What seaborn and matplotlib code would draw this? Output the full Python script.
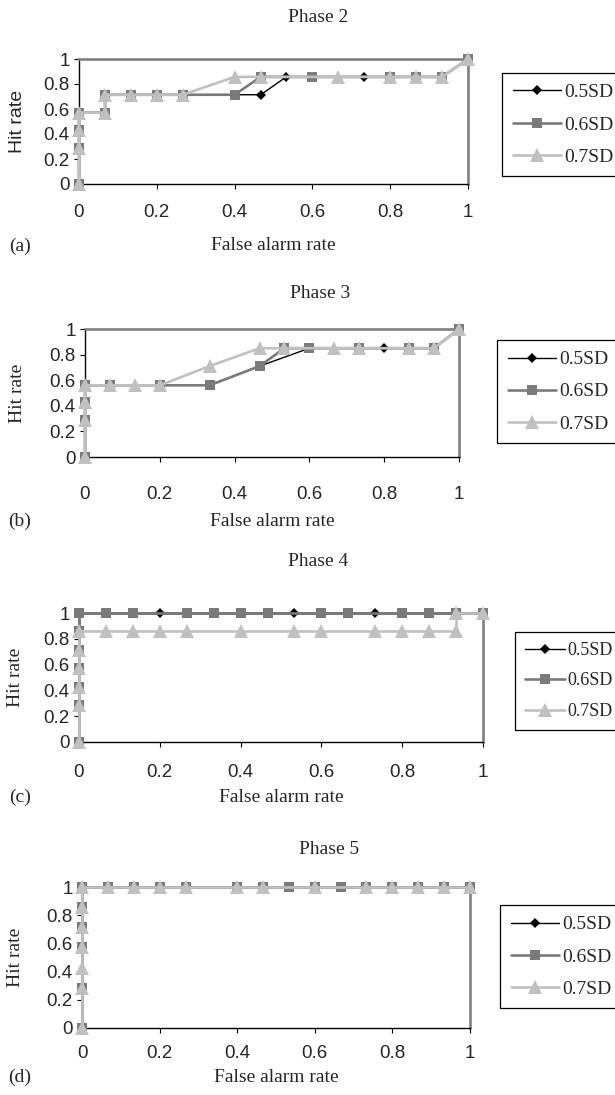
import matplotlib
matplotlib.use("Agg")
import matplotlib.pyplot as plt
import seaborn as sns

sns.set_style("ticks")
plt.rcParams["font.family"] = ["Liberation Sans", "DejaVu Sans"]

# ---------------- data ----------------
series_names = ["0.5SD", "0.6SD", "0.7SD"]
xtick_values = [0, 0.2, 0.4, 0.6, 0.8, 1]
xtick_labels = ["0", "0.2", "0.4", "0.6", "0.8", "1"]
ytick_values = [0, 0.2, 0.4, 0.6, 0.8, 1]
ytick_labels = ["0", "0.2", "0.4", "0.6", "0.8", "1"]
panel_titles = ["Phase 2", "Phase 3", "Phase 4", "Phase 5"]
panel_tags = ["(a)", "(b)", "(c)", "(d)"]

# Phase 2
p2_05_x = [0, 0, 0, 0, 0.067, 0.067, 0.133, 0.2, 0.267, 0.4, 0.467, 0.533, 0.6, 0.733, 0.8, 0.867, 0.933, 1]
p2_05_y = [0, 0.286, 0.429, 0.571, 0.571, 0.714, 0.714, 0.714, 0.714, 0.714, 0.714, 0.857, 0.857, 0.857, 0.857, 0.857, 0.857, 1]
p2_06_x = [0, 0, 0, 0, 0.067, 0.067, 0.133, 0.2, 0.267, 0.4, 0.467, 0.6, 0.8, 0.867, 0.933, 1]
p2_06_y = [0, 0.286, 0.429, 0.571, 0.571, 0.714, 0.714, 0.714, 0.714, 0.714, 0.857, 0.857, 0.857, 0.857, 0.857, 1]
p2_07_x = [0, 0, 0, 0, 0.067, 0.067, 0.133, 0.2, 0.267, 0.4, 0.467, 0.667, 0.8, 0.867, 0.933, 1]
p2_07_y = [0, 0.286, 0.429, 0.571, 0.571, 0.714, 0.714, 0.714, 0.714, 0.857, 0.857, 0.857, 0.857, 0.857, 0.857, 1]

# Phase 3
p3_05_x = [0, 0, 0, 0, 0.067, 0.2, 0.333, 0.467, 0.6, 0.733, 0.8, 0.867, 0.933, 1]
p3_05_y = [0, 0.29, 0.43, 0.56, 0.56, 0.56, 0.56, 0.71, 0.85, 0.85, 0.85, 0.85, 0.85, 1]
p3_06_x = [0, 0, 0, 0, 0.067, 0.2, 0.333, 0.467, 0.533, 0.6, 0.733, 0.867, 0.933, 1]
p3_06_y = [0, 0.29, 0.43, 0.56, 0.56, 0.56, 0.56, 0.71, 0.85, 0.85, 0.85, 0.85, 0.85, 1]
p3_07_x = [0, 0, 0, 0, 0.067, 0.133, 0.2, 0.333, 0.467, 0.533, 0.667, 0.733, 0.867, 0.933, 1]
p3_07_y = [0, 0.29, 0.43, 0.56, 0.56, 0.56, 0.56, 0.71, 0.85, 0.85, 0.85, 0.85, 0.85, 0.85, 1]

# Phase 4
p4_05_x = [0, 0, 0, 0, 0, 0, 0, 0.067, 0.133, 0.2, 0.267, 0.333, 0.4, 0.467, 0.533, 0.6, 0.667, 0.733, 0.8, 0.867, 0.933, 1]
p4_05_y = [0, 0.286, 0.429, 0.571, 0.714, 0.857, 1, 1, 1, 1, 1, 1, 1, 1, 1, 1, 1, 1, 1, 1, 1, 1]
p4_06_x = [0, 0, 0, 0, 0, 0, 0, 0.067, 0.133, 0.267, 0.333, 0.4, 0.467, 0.6, 0.667, 0.8, 0.867, 0.933, 1]
p4_06_y = [0, 0.286, 0.429, 0.571, 0.714, 0.857, 1, 1, 1, 1, 1, 1, 1, 1, 1, 1, 1, 1, 1]
p4_07_x = [0, 0, 0, 0, 0, 0, 0.067, 0.133, 0.2, 0.267, 0.4, 0.533, 0.6, 0.733, 0.8, 0.867, 0.933, 0.933, 1]
p4_07_y = [0, 0.286, 0.429, 0.571, 0.714, 0.857, 0.857, 0.857, 0.857, 0.857, 0.857, 0.857, 0.857, 0.857, 0.857, 0.857, 0.857, 1, 1]

# Phase 5
p5_05_x = [0, 0, 0, 0, 0, 0, 0.067, 0.133, 0.2, 0.267, 0.4, 0.467, 0.533, 0.6, 0.667, 0.733, 0.8, 0.867, 0.933, 1]
p5_05_y = [0, 0.286, 0.571, 0.714, 0.857, 1, 1, 1, 1, 1, 1, 1, 1, 1, 1, 1, 1, 1, 1, 1]
p5_06_x = [0, 0, 0, 0, 0, 0, 0.067, 0.133, 0.2, 0.267, 0.4, 0.467, 0.533, 0.6, 0.667, 0.733, 0.8, 0.867, 0.933, 1]
p5_06_y = [0, 0.286, 0.571, 0.714, 0.857, 1, 1, 1, 1, 1, 1, 1, 1, 1, 1, 1, 1, 1, 1, 1]
p5_07_x = [0, 0, 0, 0, 0, 0, 0, 0.067, 0.133, 0.2, 0.267, 0.4, 0.467, 0.6, 0.733, 0.8, 0.867, 0.933, 1]
p5_07_y = [0, 0.286, 0.429, 0.571, 0.714, 0.857, 1, 1, 1, 1, 1, 1, 1, 1, 1, 1, 1, 1, 1]

phase_data = [
    [(p2_05_x, p2_05_y), (p2_06_x, p2_06_y), (p2_07_x, p2_07_y)],
    [(p3_05_x, p3_05_y), (p3_06_x, p3_06_y), (p3_07_x, p3_07_y)],
    [(p4_05_x, p4_05_y), (p4_06_x, p4_06_y), (p4_07_x, p4_07_y)],
    [(p5_05_x, p5_05_y), (p5_06_x, p5_06_y), (p5_07_x, p5_07_y)],
]

# ---------------- style ----------------
styles = [
    dict(color="#000000", marker="D", markersize=5.5, linewidth=1.0),
    dict(color="#7a7a7a", marker="s", markersize=7.5, linewidth=1.9),
    dict(color="#c0c0c0", marker="^", markersize=9.5, linewidth=1.9),
]
SERIF = ["Liberation Serif", "DejaVu Serif"]
SANS = ["Liberation Sans", "DejaVu Sans"]

W, H = 615, 1095
# layout in pixels
layouts = [
    dict(box=(79, 468, 59, 184), title=(318, 18), xlab_y=246, ylab_x=18, ylab_font=SANS,
         xpad=11, leg=(502, 73), leg_fs=14, hl=2.5, tag_x=20),
    dict(box=(85, 459, 329, 457), title=(320, 293), xlab_y=521, ylab_x=18, ylab_font=SERIF,
         xpad=17, leg=(497, 340), leg_fs=14, hl=2.5, tag_x=20),
    dict(box=(79, 483, 613, 742), title=(318, 562), xlab_y=797, ylab_x=15, ylab_font=SERIF,
         xpad=12, leg=(515, 632), leg_fs=13, hl=2.2, tag_x=20),
    dict(box=(82, 470, 887, 1028), title=(329, 850), xlab_y=1077, ylab_x=15, ylab_font=SERIF,
         xpad=9, leg=(500, 905), leg_fs=14, hl=2.5, tag_x=20),
]

fig = plt.figure(figsize=(W / 100, H / 100), dpi=100)

for i, lay in enumerate(layouts):
    x0, x1, yt, yb = lay["box"]
    ax = fig.add_axes([x0 / W, 1 - yb / H, (x1 - x0) / W, (yb - yt) / H])
    for (xs, ys), name, st in zip(phase_data[i], series_names, styles):
        sns.lineplot(x=xs, y=ys, ax=ax, sort=False, estimator=None, label=name,
                     legend=False, color=st["color"], marker=st["marker"],
                     markersize=st["markersize"], linewidth=st["linewidth"],
                     markeredgewidth=0, clip_on=False, zorder=3)
    ax.set_xlim(0, 1)
    ax.set_ylim(0, 1)
    ax.set_xticks(xtick_values)
    ax.set_xticklabels(xtick_labels, fontfamily=SANS, fontsize=13.5)
    ax.set_yticks(ytick_values)
    ax.set_yticklabels(ytick_labels, fontfamily=SANS, fontsize=13.5)
    ax.tick_params(axis="x", direction="out", length=3.6, width=0.8, pad=lay["xpad"], color="black")
    ax.tick_params(axis="y", direction="out", length=3.6, width=0.8, pad=3, color="black")
    for s in ["top", "right"]:
        ax.spines[s].set_color("#808080")
        ax.spines[s].set_linewidth(1.9)
    for s in ["left", "bottom"]:
        ax.spines[s].set_color("black")
        ax.spines[s].set_linewidth(1.0)
    ax.set_xlabel("")
    ax.set_ylabel("")

    fig.text(lay["ylab_x"] / W, 1 - ((yt + yb) / 2) / H, "Hit rate", rotation=90,
             ha="center", va="center", fontfamily=lay["ylab_font"], fontsize=14)
    fig.text(((x0 + x1) / 2) / W, 1 - lay["xlab_y"] / H, "False alarm rate",
             ha="center", va="center", fontfamily=SERIF, fontsize=14)
    fig.text(lay["tag_x"] / W, 1 - lay["xlab_y"] / H, panel_tags[i],
             ha="center", va="center", fontfamily=SERIF, fontsize=14)
    tx, ty = lay["title"]
    fig.text(tx / W, 1 - ty / H, panel_titles[i], ha="center", va="center",
             fontfamily=SERIF, fontsize=14)

    handles = ax.get_lines()[:3]
    lx, ly = lay["leg"]
    leg = fig.legend(handles, series_names, loc="upper left",
                     bbox_to_anchor=(lx / W, 1 - ly / H), borderaxespad=0,
                     frameon=True, fancybox=False, shadow=False, framealpha=1,
                     edgecolor="black", prop={"family": SERIF, "size": lay["leg_fs"]},
                     handlelength=lay["hl"], handletextpad=0.15, labelspacing=0.75,
                     borderpad=0.55)
    leg.get_frame().set_linewidth(0.9)

fig.savefig("out.png", dpi=100)
